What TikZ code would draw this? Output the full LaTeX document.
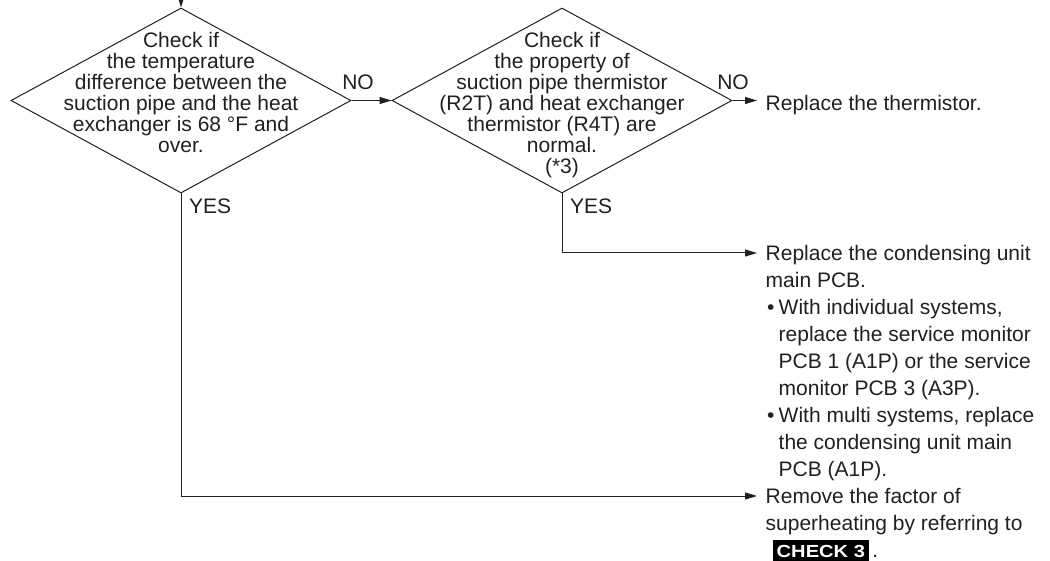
\documentclass[tikz,border=0pt]{standalone}
\usepackage{fontspec}
\setmainfont{Liberation Sans}
\usepackage{graphicx}
\usetikzlibrary{shapes.geometric,arrows.meta}
\definecolor{ink}{HTML}{231F20}
% bullet and hanging indent for the listed remedies
\newcommand{\bulitem}{\makebox[13pt][l]{\hspace{1.5pt}•}}
\newcommand{\contind}{\hspace*{13pt}}
\begin{document}
\begin{tikzpicture}[x=1pt,y=-1pt,
  every node/.style={text=ink},
  decision/.style={shape=diamond, draw=ink, line width=1pt,
    minimum width=340pt, minimum height=185pt, inner sep=0pt},
  qtext/.style={align=center, inner sep=0pt, anchor=north,
    font=\fontsize{21}{21}\selectfont},
  result/.style={align=left, inner sep=0pt, anchor=north west,
    font=\fontsize{21}{27}\selectfont},
  flowlabel/.style={inner sep=0pt, font=\fontsize{21}{21}\selectfont},
  badge/.style={fill=black, text=white, inner xsep=4pt, inner ysep=0pt,
    minimum height=23pt, font=\fontsize{17.5}{17.5}\selectfont\bfseries},
  link/.style={draw=ink, line width=1pt},
  arr/.style={link, -{Triangle[length=12pt,width=7pt]}},
]
\useasboundingbox (0,0) rectangle (1050,561);
\clip (0,0) rectangle (1050,561);

% decision diamonds
\node[decision] (d1) at (181,100.5) {};
\node[decision] (d2) at (562,100.5) {};
\node[qtext] (q1) at (181,32.5) {Check if\\the temperature\\difference between the\\suction pipe and the heat\\exchanger is 68 °F and\\over.};
\node[qtext] (q2) at (562,32.5) {Check if\\the property of\\suction pipe thermistor\\(R2T) and heat exchanger\\thermistor (R4T) are\\normal.\\(*3)};

% outcomes
\node[result] (r1) at (765.5,91.8) {\strut Replace the thermistor.};
\node[result] (r2) at (765.5,241.6) {\strut Replace the condensing unit\\
main PCB.\\
\bulitem With individual systems,\\
\contind replace the service monitor\\
\contind PCB 1 (A1P) or the service\\
\contind monitor PCB 3 (A3P).\\
\bulitem With multi systems, replace\\
\contind the condensing unit main\\
\contind PCB (A1P).};
\node[result] (r3) at (765.5,484.6) {\strut Remove the factor of\\
superheating by referring to};
\node[badge, anchor=north west] (chk) at (772.5,539.5) {\scalebox{1.15}[1]{CHECK 3}};
\node[flowlabel, anchor=base west] (dot) at ([xshift=3pt]chk.base east) {.};

% connector end points
\coordinate (top) at (181,-14);
\coordinate (t1) at (757,100.5);
\coordinate (t2) at (757,253);
\coordinate (t3) at (757,496);

% connectors
\draw[arr] (top) -- (d1.north);
\draw[arr] (d1.east) -- (d2.west);
\draw[arr] (d2.east) -- (t1);
\draw[arr] (d2.south) |- (t2);
\draw[arr] (d1.south) |- (t3);

% branch labels
\node[flowlabel] (no1) at (358,82.5) {NO};
\node[flowlabel] (no2) at (733,82.5) {NO};
\node[flowlabel, anchor=west] (yes1) at (189,206) {YES};
\node[flowlabel, anchor=west] (yes2) at (570,206) {YES};
\end{tikzpicture}
\end{document}
